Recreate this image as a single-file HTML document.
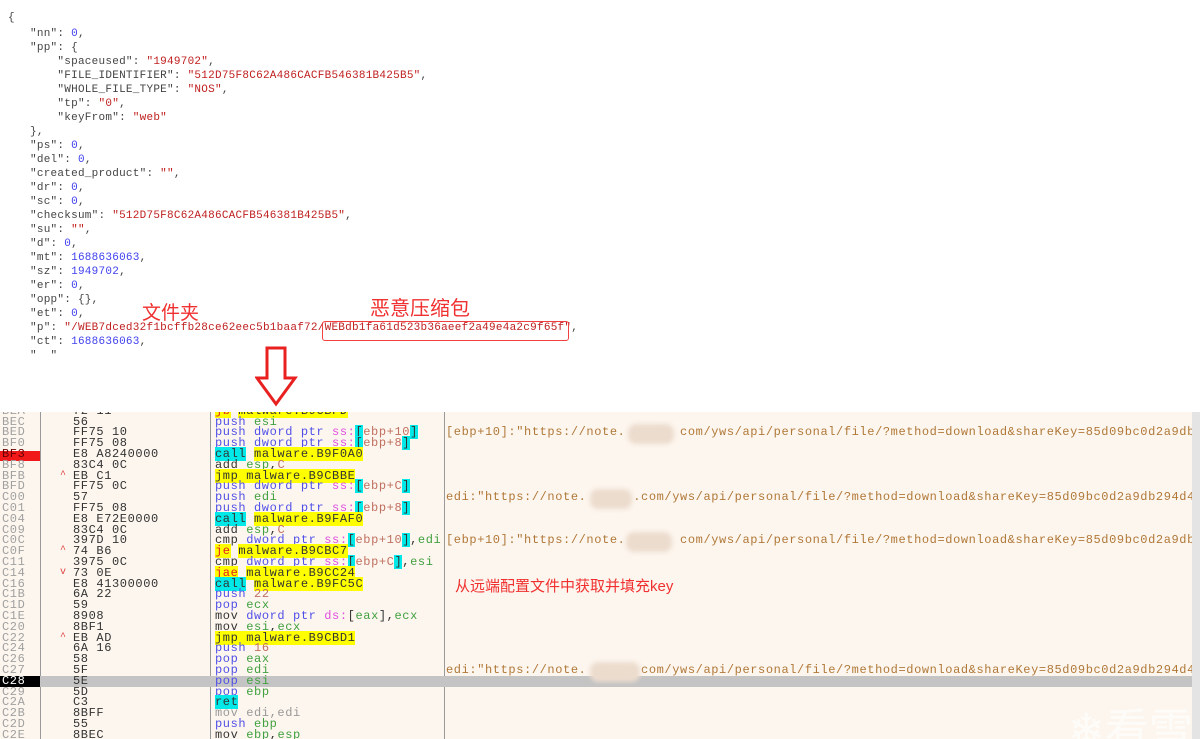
<!DOCTYPE html>
<html><head><meta charset="utf-8"><style>
body{margin:0;width:1200px;height:739px;overflow:hidden;background:#fff;position:relative;font-family:"Liberation Mono",monospace}
.j{position:absolute;left:0;font-size:11px;letter-spacing:0.25px;color:#444;white-space:pre;font-family:"Liberation Mono","Noto Serif CJK SC",monospace;line-height:14px}
.s{color:#c02020}.n{color:#4040ee}
.lab{position:absolute;color:#f03030;font-family:"Liberation Sans","Noto Sans CJK SC",sans-serif;white-space:nowrap}
#panel{position:absolute;left:0;top:412px;width:1192px;height:327px;background:#fdf6ee;overflow:hidden}
.r{position:absolute;left:0;width:1192px;height:10.8px;font-size:12px;letter-spacing:0.6px;line-height:10.8px;white-space:pre}
.a{position:absolute;left:2px;color:#a0a0a0}
.ar{position:absolute;left:60px;color:#e04040;font-size:10px}
.b{position:absolute;left:73px;color:#333}
.d{position:absolute;left:215px;color:#333}
.c{position:absolute;left:446px;color:#b07838}
.p{color:#5050e8}.g{color:#40a040}.m{color:#e050e0}.o{color:#c07060}
.y{background:#ffff00}.cy{background:#00e8e8}.rt{color:#e02020}
.blur{position:absolute;height:16px;background:#ecdcce;border-radius:8px;filter:blur(2px)}
</style></head><body>
<div class="j" style="top:11px;left:8px">{</div>
<div class="j" style="top:27px;left:30px">"nn": <span class="n">0</span>,
"pp": {
    "spaceused": <span class="s">"1949702"</span>,
    "FILE_IDENTIFIER": <span class="s">"512D75F8C62A486CACFB546381B425B5"</span>,
    "WHOLE_FILE_TYPE": <span class="s">"NOS"</span>,
    "tp": <span class="s">"0"</span>,
    "keyFrom": <span class="s">"web"</span>
},
"ps": <span class="n">0</span>,
"del": <span class="n">0</span>,
"created_product": <span class="s">""</span>,
"dr": <span class="n">0</span>,
"sc": <span class="n">0</span>,
"checksum": <span class="s">"512D75F8C62A486CACFB546381B425B5"</span>,
"su": <span class="s">""</span>,
"d": <span class="n">0</span>,
"mt": <span class="n">1688636063</span>,
"sz": <span class="n">1949702</span>,
"er": <span class="n">0</span>,
"opp": {},
"et": <span class="n">0</span>,
"p": <span class="s">"/WEB7dced32f1bcffb28ce62eec5b1baaf72/WEBdb1fa61d523b36aeef2a49e4a2c9f65f"</span>,
"ct": <span class="n">1688636063</span>,
"  "</div>
<div style="position:absolute;left:322px;top:321px;width:245px;height:18px;border:1px solid #f04040;border-radius:3px"></div>
<div class="lab" style="left:142px;top:298px;font-size:19px">文件夹</div>
<div class="lab" style="left:370px;top:292px;font-size:20px">恶意压缩包</div>
<svg style="position:absolute;left:255px;top:346px" width="44" height="62"><polygon points="12,2 30,2 30,32 40,32 21,58 2,32 12,32" fill="#fff" stroke="#e82020" stroke-width="3"/></svg>
<div id="panel">
<div style="position:absolute;left:40px;top:0;width:1px;height:327px;background:#999"></div>
<div style="position:absolute;left:210px;top:0;width:1px;height:327px;background:#999"></div>
<div style="position:absolute;left:444px;top:0;width:1px;height:327px;background:#999"></div>
<div style="position:absolute;left:0;top:263.8px;width:1192px;height:10.8px;background:#c4c4c4"></div>
<div style="position:absolute;left:0;top:38.6px;width:40px;height:10.8px;background:#f01818"></div>
<div style="position:absolute;left:0;top:263.8px;width:40px;height:10.8px;background:#000"></div>
<div class="r" style="top:-6.2px"><span class="a">BEA</span><span class="ar">^</span><span class="b">72 11</span><span class="d"><span class="y rt">jb</span> <span class="y">malware.B9CBFD</span></span></div>
<div class="r" style="top:4.6px"><span class="a">BEC</span><span class="b">56</span><span class="d"><span class="p">push</span> <span class="g">esi</span></span></div>
<div class="r" style="top:15.4px"><span class="a">BED</span><span class="b">FF75 10</span><span class="d"><span class="p">push dword ptr</span> <span class="m">ss:</span><span class="cy">[</span><span class="o">ebp+10</span><span class="cy">]</span></span><span class="c">[ebp+10]:"https://note.       com/yws/api/personal/file/?method=download&amp;shareKey=85d09bc0d2a9db</span></div>
<div class="r" style="top:26.2px"><span class="a">BF0</span><span class="b">FF75 08</span><span class="d"><span class="p">push dword ptr</span> <span class="m">ss:</span><span class="cy">[</span><span class="o">ebp+8</span><span class="cy">]</span></span></div>
<div class="r" style="top:37px"><span class="a" style="color:#600">BF3</span><span class="b">E8 A8240000</span><span class="d"><span class="cy">call</span> <span class="y">malware.B9F0A0</span></span></div>
<div class="r" style="top:47.8px"><span class="a">BF8</span><span class="b">83C4 0C</span><span class="d">add <span class="g">esp</span>,<span class="o">C</span></span></div>
<div class="r" style="top:58.6px"><span class="a">BFB</span><span class="ar">^</span><span class="b">EB C1</span><span class="d"><span class="y">jmp malware.B9CBBE</span></span></div>
<div class="r" style="top:69.4px"><span class="a">BFD</span><span class="b">FF75 0C</span><span class="d"><span class="p">push dword ptr</span> <span class="m">ss:</span><span class="cy">[</span><span class="o">ebp+C</span><span class="cy">]</span></span></div>
<div class="r" style="top:80.2px"><span class="a">C00</span><span class="b">57</span><span class="d"><span class="p">push</span> <span class="g">edi</span></span><span class="c">edi:"https://note.      .com/yws/api/personal/file/?method=download&amp;shareKey=85d09bc0d2a9db294d4</span></div>
<div class="r" style="top:91px"><span class="a">C01</span><span class="b">FF75 08</span><span class="d"><span class="p">push dword ptr</span> <span class="m">ss:</span><span class="cy">[</span><span class="o">ebp+8</span><span class="cy">]</span></span></div>
<div class="r" style="top:101.8px"><span class="a">C04</span><span class="b">E8 E72E0000</span><span class="d"><span class="cy">call</span> <span class="y">malware.B9FAF0</span></span></div>
<div class="r" style="top:112.6px"><span class="a">C09</span><span class="b">83C4 0C</span><span class="d">add <span class="g">esp</span>,<span class="o">C</span></span></div>
<div class="r" style="top:123.4px"><span class="a">C0C</span><span class="b">397D 10</span><span class="d">cmp <span class="p">dword ptr</span> <span class="m">ss:</span><span class="cy">[</span><span class="o">ebp+10</span><span class="cy">]</span>,<span class="g">edi</span></span><span class="c">[ebp+10]:"https://note.       com/yws/api/personal/file/?method=download&amp;shareKey=85d09bc0d2a9db</span></div>
<div class="r" style="top:134.2px"><span class="a">C0F</span><span class="ar">^</span><span class="b">74 B6</span><span class="d"><span class="y rt">je</span> <span class="y">malware.B9CBC7</span></span></div>
<div class="r" style="top:145px"><span class="a">C11</span><span class="b">3975 0C</span><span class="d">cmp <span class="p">dword ptr</span> <span class="m">ss:</span><span class="cy">[</span><span class="o">ebp+C</span><span class="cy">]</span>,<span class="g">esi</span></span></div>
<div class="r" style="top:155.8px"><span class="a">C14</span><span class="ar">v</span><span class="b">73 0E</span><span class="d"><span class="y rt">jae</span> <span class="y">malware.B9CC24</span></span></div>
<div class="r" style="top:166.6px"><span class="a">C16</span><span class="b">E8 41300000</span><span class="d"><span class="cy">call</span> <span class="y">malware.B9FC5C</span></span></div>
<div class="r" style="top:177.4px"><span class="a">C1B</span><span class="b">6A 22</span><span class="d"><span class="p">push</span> <span class="o">22</span></span></div>
<div class="r" style="top:188.2px"><span class="a">C1D</span><span class="b">59</span><span class="d"><span class="p">pop</span> <span class="g">ecx</span></span></div>
<div class="r" style="top:199px"><span class="a">C1E</span><span class="b">8908</span><span class="d">mov <span class="p">dword ptr</span> <span class="m">ds:</span>[<span class="g">eax</span>],<span class="g">ecx</span></span></div>
<div class="r" style="top:209.8px"><span class="a">C20</span><span class="b">8BF1</span><span class="d">mov <span class="g">esi</span>,<span class="g">ecx</span></span></div>
<div class="r" style="top:220.6px"><span class="a">C22</span><span class="ar">^</span><span class="b">EB AD</span><span class="d"><span class="y">jmp malware.B9CBD1</span></span></div>
<div class="r" style="top:231.4px"><span class="a">C24</span><span class="b">6A 16</span><span class="d"><span class="p">push</span> <span class="o">16</span></span></div>
<div class="r" style="top:242.2px"><span class="a">C26</span><span class="b">58</span><span class="d"><span class="p">pop</span> <span class="g">eax</span></span></div>
<div class="r" style="top:253px"><span class="a">C27</span><span class="b">5F</span><span class="d"><span class="p">pop</span> <span class="g">edi</span></span><span class="c">edi:"https://note.       com/yws/api/personal/file/?method=download&amp;shareKey=85d09bc0d2a9db294d4</span></div>
<div class="r" style="top:263.8px"><span class="a" style="color:#fff">C28</span><span class="b">5E</span><span class="d"><span class="p">pop</span> <span class="g">esi</span></span></div>
<div class="r" style="top:274.6px"><span class="a">C29</span><span class="b">5D</span><span class="d"><span class="p">pop</span> <span class="g">ebp</span></span></div>
<div class="r" style="top:285.4px"><span class="a">C2A</span><span class="b">C3</span><span class="d"><span class="cy">ret</span></span></div>
<div class="r" style="top:296.2px"><span class="a">C2B</span><span class="b">8BFF</span><span class="d" style="color:#999">mov edi,edi</span></div>
<div class="r" style="top:307px"><span class="a">C2D</span><span class="b">55</span><span class="d"><span class="p">push</span> <span class="g">ebp</span></span></div>
<div class="r" style="top:317.8px"><span class="a">C2E</span><span class="b">8BEC</span><span class="d">mov <span class="g">ebp</span>,<span class="g">esp</span></span></div>
<div class="blur" style="left:628px;top:12px;width:46px;height:20px"></div>
<div class="blur" style="left:590px;top:77px;width:42px;height:20px"></div>
<div class="blur" style="left:626px;top:120px;width:46px;height:20px"></div>
<div class="blur" style="left:590px;top:250px;width:50px;height:20px"></div>
<div class="lab" style="left:455px;top:163px;font-size:15px">从远端配置文件中获取并填充key</div>
<div style="position:absolute;left:1068px;top:282px;font-size:44px;color:#fff;opacity:0.7;font-family:'Noto Sans CJK SC',sans-serif;white-space:nowrap">❄看雪</div>
</div>
<div style="position:absolute;left:1192px;top:412px;width:8px;height:327px;background:#e4e4e4"></div>
</body></html>
